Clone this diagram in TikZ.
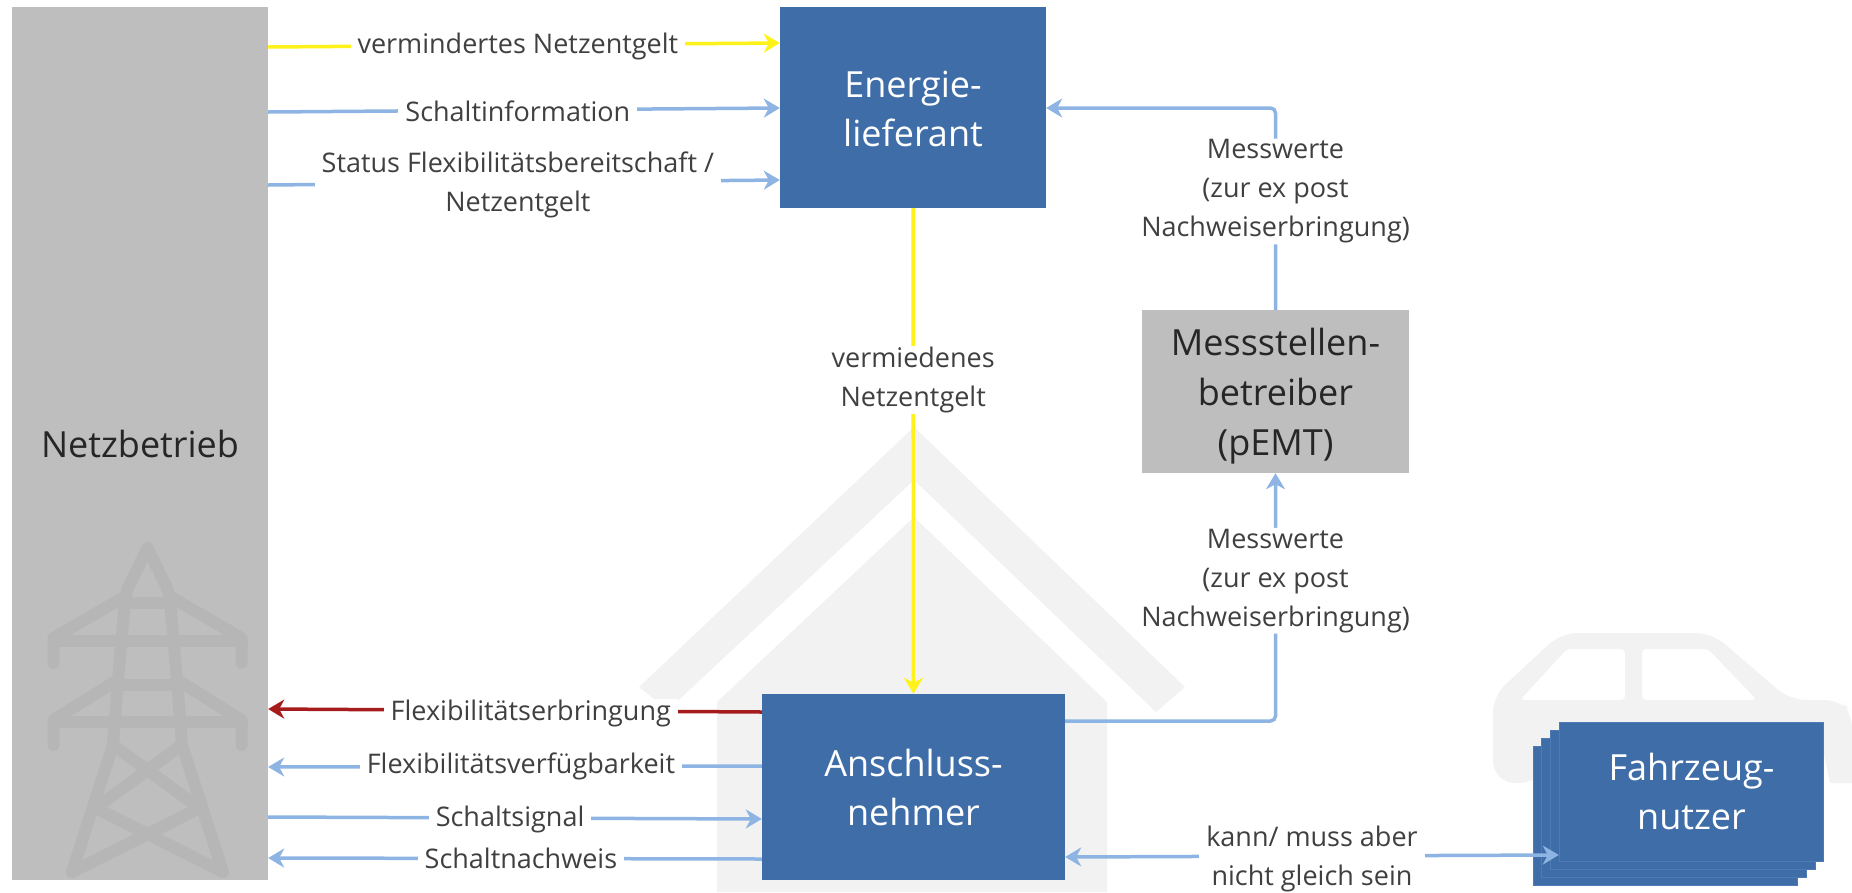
\documentclass[tikz,border=0pt]{standalone}
\usepackage{fontspec}
\setmainfont{Open Sans}
\usetikzlibrary{arrows.meta}

\definecolor{boxblue}{HTML}{3F6DA8}
\definecolor{stackedge}{HTML}{4E7BB4}
\definecolor{boxgray}{HTML}{BEBEBE}
\definecolor{mastgray}{HTML}{B6B6B6}
\definecolor{markgray}{HTML}{F2F2F2}
\definecolor{flowblue}{HTML}{8DB4E2}
\definecolor{flowyellow}{HTML}{FFF21A}
\definecolor{flowred}{HTML}{A61C1C}
\definecolor{labeltext}{HTML}{404040}
\definecolor{darktext}{HTML}{262626}

\tikzset{
  bluebox/.style={rectangle, fill=boxblue, text=white, inner sep=0pt, align=center,
    font=\fontsize{36}{49}\selectfont},
  graybox/.style={rectangle, fill=boxgray, text=darktext, inner sep=0pt, align=center,
    font=\fontsize{36}{50}\selectfont},
  flow/.style={fill=white, text=labeltext, inner xsep=7pt, inner ysep=1pt, align=center,
    font=\fontsize{27}{39}\selectfont},
  bluearrow/.style={line width=3.5pt, draw=flowblue, ->},
  yellowarrow/.style={line width=3.5pt, draw=flowyellow, ->},
  redarrow/.style={line width=3.5pt, draw=flowred, ->},
  mast/.style={line width=12pt, draw=mastgray, line cap=round, line join=round},
  >={Stealth[length=16pt, width=19pt, inset=5pt]}
}

\begin{document}
\begin{tikzpicture}[x=1pt, y=-1pt]

\useasboundingbox (0,0) rectangle (1852,892);

% house and car behind everything
\fill[markgray] (914,427) -- (1185,687) -- (1156,712) -- (914,480) -- (668,710) -- (639,687) -- cycle;
\fill[markgray] (914,517) -- (1107,702) -- (1107,892) -- (717,892) -- (717,702) -- cycle;
\fill[markgray, even odd rule]
  [rounded corners=16] (1493,740) -- (1493,696) -- (1561,633) -- (1712,633) -- (1790,700)
    -- (1840,700) -- (1852,712) [sharp corners] -- (1852,783) -- (1830,783) -- (1824,755) -- (1560,755)
    [rounded corners=22] -- (1540,783) -- (1493,783) -- cycle
  [rounded corners=4] (1520,700) -- (1567,649) -- (1625,649) -- (1625,700) -- cycle
  (1642,700) -- (1642,649) -- (1708,649) -- (1757,700) -- cycle;

\node[graybox, minimum width=256pt, minimum height=873pt] (netz) at (140,443.5) {Netzbetrieb};

% mast, one half and its mirror image
\foreach \m in {1,-1}
{
  \begin{scope}[xshift=147.5pt, xscale=\m]
    \draw[mast] (0,548) -- (-20.5,590) -- (-22.5,600) -- (-29.5,680) -- (-34.5,745) -- (-75.5,872);
    \draw[mast] (-94,663) -- (-94,638) -- (-25,598);
    \draw[mast] (-94,745) -- (-94,720) -- (-33,682);
    \draw[mast] (-25,603) -- (0,603);
    \draw[mast] (-33,685) -- (0,685);
    \draw[mast] (-94,641) -- (0,641);
    \draw[mast] (-94,722) -- (0,722);
    \draw[mast] (-34.5,745) -- (52,808) -- (-75.5,872);
  \end{scope}
}

\node[bluebox, minimum width=266pt, minimum height=201pt] (liefer) at (913,107.5) {};
\node[text=white, font=\fontsize{36}{49}\selectfont, align=center, inner sep=0pt] (liefertext) at ([yshift=-1pt]liefer.center) {Energie-\\lieferant};
\node[bluebox, minimum width=303pt, minimum height=186pt] (anschluss) at (913.5,787) {Anschluss-\\nehmer};
\node[graybox, minimum width=267pt, minimum height=163pt] (mess) at (1275.5,391.5) {};
\node[text=darktext, font=\fontsize{36}{50}\selectfont, align=center, inner sep=0pt] (messtext) at ([yshift=-5pt]mess.center) {Messstellen-\\betreiber\\(pEMT)};

\foreach \s in {3,2,1}
{
  \node[bluebox, draw=stackedge, line width=1pt, minimum width=264.5pt, minimum height=139pt]
    (stack\s) at ({1691.5-8.7*\s},{791.5+8.3*\s}) {};
}
\node[bluebox, draw=stackedge, line width=1pt, minimum width=264.5pt, minimum height=139pt]
  (fahrzeug) at (1691.5,791.5) {Fahrzeug-\\nutzer};

\draw[yellowarrow] (netz.east |- 0,47) -- node[flow, pos=.488, yshift=-1pt] {vermindertes Netzentgelt} (liefer.west |- 0,43);
\draw[bluearrow] (netz.east |- 0,112) -- node[flow, pos=.488, yshift=-1pt] {Schaltinformation} (liefer.west |- 0,108);
\draw[bluearrow] (netz.east |- 0,185) -- node[flow, pos=.488, yshift=-2.5pt] {Status Flexibilitätsbereitschaft /\\Netzentgelt} (liefer.west |- 0,180);

\draw[yellowarrow] (liefer.south) -- node[flow, pos=.346, yshift=-3.5pt] {vermiedenes\\Netzentgelt} (anschluss.north);

\draw[redarrow] (anschluss.west |- 0,712) -- node[flow, pos=.468, yshift=-3pt] {Flexibilitätserbringung} (netz.east |- 0,709);
\draw[bluearrow] (anschluss.west |- 0,766) -- node[flow, pos=.488] {Flexibilitätsverfügbarkeit} (netz.east |- 0,767);
\draw[bluearrow] (netz.east |- 0,817) -- node[flow, pos=.49, yshift=-1pt] {Schaltsignal} (anschluss.west |- 0,819);
\draw[bluearrow] (anschluss.west |- 0,859) -- node[flow, pos=.488] {Schaltnachweis} (netz.east |- 0,858);

\draw[bluearrow, rounded corners=5pt] (anschluss.east |- 0,721) -| node[flow, pos=.79, yshift=-3.5pt] {Messwerte\\(zur ex post\\Nachweiserbringung)} (mess.south);
\draw[bluearrow, rounded corners=5pt] (mess.north) |- node[flow, pos=.302, yshift=-3.5pt] {Messwerte\\(zur ex post\\Nachweiserbringung)} (liefer.east |- 0,108);

\draw[bluearrow, <->] (anschluss.east |- 0,857) -- node[flow, yshift=-3pt] {kann/ muss aber\\nicht gleich sein} (fahrzeug.west |- 0,855);

\end{tikzpicture}
\end{document}
